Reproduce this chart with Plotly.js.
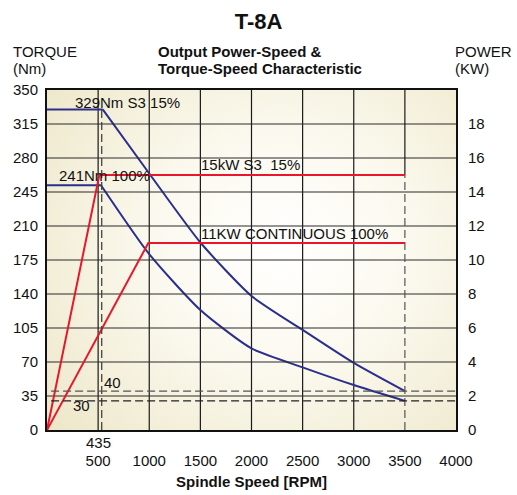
<!DOCTYPE html>
<html>
<head>
<meta charset="utf-8">
<script src="https://cdn.plot.ly/plotly-3.0.1.min.js"></script>
<style>
  html, body { margin: 0; padding: 0; background: #ffffff; }
  #wrap { position: relative; width: 517px; height: 495px; }
  #bg { position: absolute; left: 47px; top: 90px; width: 409px; height: 340px;
        background: radial-gradient(ellipse 330px 300px at 235px 160px, #ffffff 0%, #fbf9ee 40%, #ebe4c3 100%); }
  #chart { position: absolute; left: 0; top: 0; width: 517px; height: 495px; }
</style>
</head>
<body>
<div id="wrap"><div id="bg"></div><div id="chart"></div></div>
<script>
// ---- data ----
const rpmTickVals = [500, 1000, 1500, 2000, 2500, 3000, 3500, 4000];
const torqueTickVals = [0, 35, 70, 105, 140, 175, 210, 245, 280, 315, 350];
const powerTickVals = [0, 2, 4, 6, 8, 10, 12, 14, 16, 18];

// torque curves (Nm)
const rpmS3 = [0, 545, 1007, 1500, 2000, 2500, 3000, 3500];
const torqueS3 = [330, 330, 263, 193, 138, 103, 69, 40];
const rpmCont = [0, 528, 1000, 1500, 2000, 2500, 3000, 3500];
const torqueCont = [252, 252, 181, 123.5, 84, 64.5, 46.3, 30];

// power curves (kW)
const rpmP15 = [0, 512, 3500];
const powerP15 = [0, 15, 15];
const rpmP11 = [0, 991, 3500];
const powerP11 = [0, 11, 11];

// reference markers
const dashTorqueLevels = [40, 30];
const dashTorqueLabels = ['40', '30'];
const baseSpeed = 535;
const maxSpeed = 3500;
const baseSpeedLabel = '435';

const FONT = 'Liberation Sans, Arial, Helvetica, sans-serif';
const BLUE = '#2b2e8c';
const RED = '#e8172b';
const GRID = '#1a1a1a';

const xMax = 4000, yMax = 350, pMax = 20;

// vertical grid from the rpm ticks
const gx = [], gy = [];
rpmTickVals.filter(v => v !== maxSpeed && v !== xMax).forEach(v => { gx.push(v, v, null); gy.push(0, yMax, null); });
// horizontal grid from the power ticks (they line up with the torque ticks)
const hx = [], hy = [];
powerTickVals.filter(v => v !== 0).forEach(v => { hx.push(0, xMax, null); hy.push(v, v, null); });

const traces = [
  {x: gx, y: gy, yaxis: 'y', mode: 'lines', line: {color: GRID, width: 1.2}, connectgaps: false},
  {x: hx, y: hy, yaxis: 'y2', mode: 'lines', line: {color: '#2a2a2a', width: 1.1}, connectgaps: false},
  {x: [maxSpeed, maxSpeed], y: [powerP15[2], pMax], yaxis: 'y2', mode: 'lines', line: {color: GRID, width: 1.2}},
  {x: [maxSpeed, maxSpeed], y: [0, powerP15[2]], yaxis: 'y2', mode: 'lines', line: {color: '#555', width: 1.2, dash: '8px,4px'}},
  {x: rpmS3.slice(0, 2), y: torqueS3.slice(0, 2), yaxis: 'y', mode: 'lines', line: {color: BLUE, width: 2}},
  {x: rpmS3.slice(1), y: torqueS3.slice(1), yaxis: 'y', mode: 'lines', line: {color: BLUE, width: 2, shape: 'spline', smoothing: 0.6}},
  {x: rpmCont.slice(0, 2), y: torqueCont.slice(0, 2), yaxis: 'y', mode: 'lines', line: {color: BLUE, width: 2}},
  {x: rpmCont.slice(1), y: torqueCont.slice(1), yaxis: 'y', mode: 'lines', line: {color: BLUE, width: 2, shape: 'spline', smoothing: 0.6}},
  {x: rpmP15, y: powerP15, yaxis: 'y2', mode: 'lines', line: {color: RED, width: 2}},
  {x: rpmP11, y: powerP11, yaxis: 'y2', mode: 'lines', line: {color: RED, width: 2}}
];

const shapes = [];
// vertical dashed at base speed
shapes.push({type: 'line', xref: 'x', yref: 'y', x0: baseSpeed, x1: baseSpeed, y0: 0, y1: torqueS3[1],
  line: {color: '#444', width: 1.3, dash: '8px,4px'}});
// horizontal dashed torque lines
dashTorqueLevels.forEach((v, i) => {
  shapes.push({type: 'line', xref: 'x', yref: 'y', x0: 40, x1: xMax, y0: v, y1: v,
    line: {color: i === 0 ? '#555' : '#222', width: 1.3, dash: '8px,4px'}});
});

const ann = (o) => Object.assign({showarrow: false, font: {family: FONT, size: 15, color: '#111'}, xanchor: 'left', yanchor: 'middle'}, o);
const annotations = [
  ann({xref: 'x', yref: 'y', x: 255, y: 337.6, text: '329Nm S3 15%'}),
  ann({xref: 'x', yref: 'y', x: 100, y: 261.5, text: '241Nm 100%'}),
  ann({xref: 'x', yref: 'y', x: 1485, y: 273.8, text: '15kW S3  15%'}),
  ann({xref: 'x', yref: 'y', x: 1485, y: 201.8, text: '11KW CONTINUOUS 100%'}),
  ann({xref: 'x', yref: 'y', x: 535, y: 48.4, text: dashTorqueLabels[0]}),
  ann({xref: 'x', yref: 'y', x: 230, y: 25.7, text: dashTorqueLabels[1]}),
  ann({xref: 'x', yref: 'paper', x: 500, y: -0.036, xanchor: 'center', text: baseSpeedLabel}),
  ann({xref: 'paper', yref: 'paper', x: 0.266, y: 1.1147, text: '<b>Output Power-Speed &amp;</b>'}),
  ann({xref: 'paper', yref: 'paper', x: 0.266, y: 1.0618, text: '<b>Torque-Speed Characteristic</b>'}),
  ann({xref: 'paper', yref: 'paper', x: -0.088, y: 1.1147, text: 'TORQUE'}),
  ann({xref: 'paper', yref: 'paper', x: -0.088, y: 1.0618, text: '(Nm)'}),
  ann({xref: 'paper', yref: 'paper', x: 0.993, y: 1.1147, text: 'POWER'}),
  ann({xref: 'paper', yref: 'paper', x: 0.993, y: 1.0618, text: '(KW)'})
];

const layout = {
  width: 517, height: 495,
  margin: {l: 47, r: 61, t: 90, b: 65, pad: 0},
  paper_bgcolor: 'rgba(0,0,0,0)',
  plot_bgcolor: 'rgba(0,0,0,0)',
  showlegend: false,
  hovermode: false,
  font: {family: FONT, size: 15, color: '#111'},
  title: {text: '<b>T-8A</b>', font: {family: FONT, size: 22, color: '#111'},
    x: 0.5, xanchor: 'center', xref: 'container', y: 0.956, yanchor: 'middle', yref: 'container'},
  xaxis: {
    range: [0, xMax], tickvals: rpmTickVals, ticktext: rpmTickVals.map(String),
    showgrid: false, zeroline: false,
    showline: true, linecolor: '#111', linewidth: 2, mirror: true,
    ticks: 'outside', ticklen: 16, tickcolor: 'rgba(0,0,0,0)',
    tickfont: {family: FONT, size: 15, color: '#111'},
    title: {text: '<b>Spindle Speed [RPM]</b>', font: {family: FONT, size: 15, color: '#111'}, standoff: 8}
  },
  yaxis: {
    range: [0, yMax], tickvals: torqueTickVals, ticktext: torqueTickVals.map(String),
    showgrid: false, zeroline: false,
    showline: true, linecolor: '#111', linewidth: 2, mirror: true,
    ticks: 'outside', ticklen: 4, tickcolor: 'rgba(0,0,0,0)',
    tickfont: {family: FONT, size: 15, color: '#111'}
  },
  yaxis2: {
    range: [0, pMax], overlaying: 'y', side: 'right',
    tickvals: powerTickVals, ticktext: powerTickVals.map(String),
    showgrid: false, zeroline: false, showline: false,
    ticks: 'outside', ticklen: 8, tickcolor: 'rgba(0,0,0,0)',
    tickfont: {family: FONT, size: 15, color: '#111'}
  },
  shapes: shapes,
  annotations: annotations
};

Plotly.newPlot('chart', traces, layout, {displayModeBar: false, staticPlot: true});
</script>
</body>
</html>
